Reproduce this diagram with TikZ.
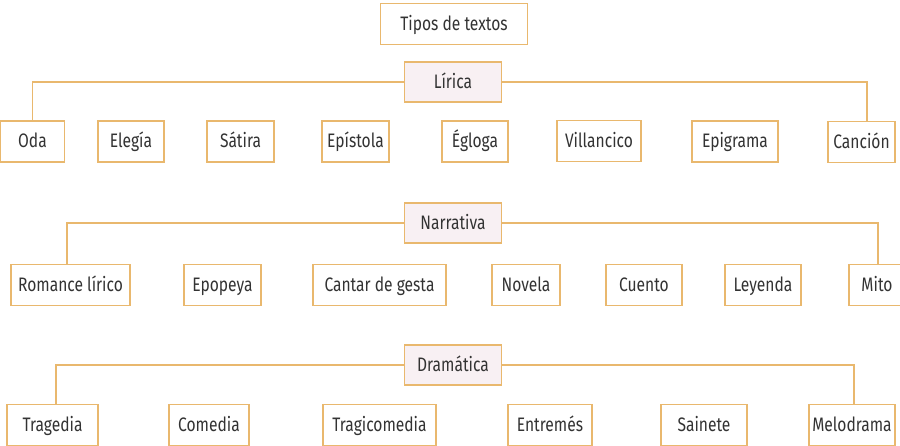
\documentclass[tikz,border=0pt]{standalone}
\usepackage{fontspec}
\setmainfont{Fira Sans}[FakeStretch=0.8]
\definecolor{edge}{HTML}{E9B86E}
\definecolor{catfill}{HTML}{F8F0F3}
\definecolor{ink}{HTML}{333333}
\begin{document}
\begin{tikzpicture}[x=1pt,y=-1pt,
  box/.style={draw=edge, line width=1.5pt, fill=white, text=ink, inner sep=0pt,
    font=\fontsize{19.5}{22}\selectfont, text height=13.5pt, text depth=0.5pt,
    minimum height=41pt},
  cat/.style={box, fill=catfill},
  link/.style={draw=edge, line width=1.5pt}]
\useasboundingbox (0,0) rectangle (900,446);
% title
\node[box, minimum width=147pt] (tipos) at (454,24) {Tipos de textos};
% Lírica
\node[cat, minimum width=97pt, minimum height=40pt] (lirica) at (453,82) {Lírica};
\node[box, minimum width=64pt] (oda) at (32.5,141.5) {Oda};
\node[box, minimum width=66pt] (elegia) at (131,141.5) {Elegía};
\node[box, minimum width=67pt] (satira) at (240.5,141.5) {Sátira};
\node[box, minimum width=67pt] (epistola) at (355.5,141.5) {Epístola};
\node[box, minimum width=66pt] (egloga) at (475,141.5) {Égloga};
\node[box, minimum width=84pt] (villancico) at (599,141) {Villancico};
\node[box, minimum width=86pt] (epigrama) at (735,141.5) {Epigrama};
\node[box, minimum width=67pt] (cancion) at (861.5,142) {Canción};
\draw[link] (lirica.west) -| (oda.north);
\draw[link] (lirica.east) -| ([xshift=5.5pt]cancion.north);
% Narrativa
\node[cat, minimum width=97pt, minimum height=40pt] (narrativa) at (453,223) {Narrativa};
\node[box, minimum width=119pt] (romance) at (70.5,285) {Romance lírico};
\node[box, minimum width=77pt] (epopeya) at (222.5,285) {Epopeya};
\node[box, minimum width=133pt] (cantar) at (379.5,285) {Cantar de gesta};
\node[box, minimum width=68pt] (novela) at (526,285) {Novela};
\node[box, minimum width=76pt] (cuento) at (644,285) {Cuento};
\node[box, minimum width=76pt] (leyenda) at (763,285) {Leyenda};
\node[box, minimum width=56pt] (mito) at (877,285) {Mito};
\draw[link] (narrativa.west) -| ([xshift=-3.5pt]romance.north);
\draw[link] (narrativa.east) -| ([xshift=1pt]mito.north);
% Dramática
\node[cat, minimum width=97pt, minimum height=40pt] (dramatica) at (453,365) {Dramática};
\node[box, minimum width=91pt] (tragedia) at (52.5,425) {Tragedia};
\node[box, minimum width=80pt] (comedia) at (209,425) {Comedia};
\node[box, minimum width=113pt] (tragicomedia) at (379.5,425) {Tragicomedia};
\node[box, minimum width=84pt] (entremes) at (550,425) {Entremés};
\node[box, minimum width=86pt] (sainete) at (704,425) {Sainete};
\node[box, minimum width=86pt] (melodrama) at (852,425) {Melodrama};
\draw[link] (dramatica.west) -| ([xshift=3.5pt]tragedia.north);
\draw[link] (dramatica.east) -| ([xshift=2pt]melodrama.north);
\end{tikzpicture}
\end{document}
